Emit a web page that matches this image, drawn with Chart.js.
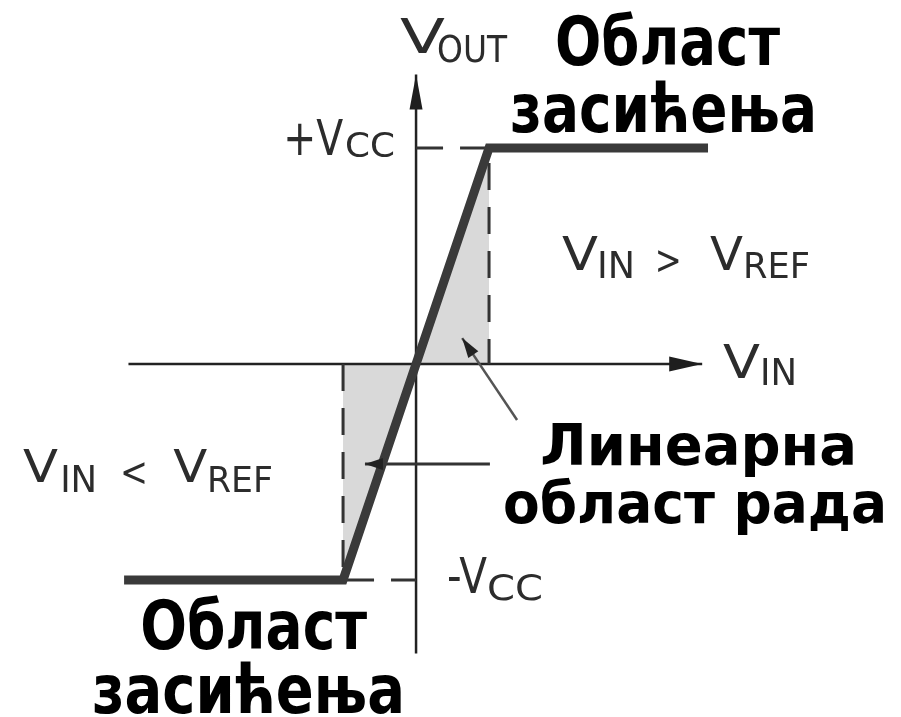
<!DOCTYPE html>
<html>
<head>
<meta charset="utf-8">
<script src="https://cdn.jsdelivr.net/npm/chart.js@4.4.1/dist/chart.umd.min.js"></script>
<style>
  html, body { margin: 0; padding: 0; background: #fff; }
  #wrap { width: 901px; height: 717px; position: relative; }
</style>
</head>
<body>
<div id="wrap"><canvas id="chart"></canvas></div>
<script>
// transfer characteristic of the comparator (Vcc = 1)
const vinCurve = [-1.0, -0.25, 0.25, 1.0];
const voutCurve = [-1, -1, 1, 1];

// linear region (shaded down to the V_IN axis)
const vinLinear = [-0.25, 0, 0.25];
const voutLinear = [-1, 0, 1];

// axes extents
const vinAxis = [-0.985, 0.98];
const voutAxis = [-1.34, 1.34];

// +Vcc / -Vcc guides
const guideTopX = [0, 0.25, 0.25];
const guideTopY = [1, 1, 0];
const guideBotX = [-0.25, -0.25, 0];
const guideBotY = [0, -1, -1];

// pointer arrows (tail -> tip)
const arrowLinX = [0.346, 0.158];
const arrowLinY = [-0.259, 0.12];
const arrowLowX = [0.253, -0.175];
const arrowLowY = [-0.463, -0.463];

const pts = (xs, ys) => xs.map((x, i) => ({ x: x, y: ys[i] }));

// text: [string, x, y (data units, left/baseline), font size, fitted width]
const bigLabels = [
    ['Област', 0.476, 1.384, 68, 225],
    ['засићења', 0.322, 1.074, 68, 307],
    ['Област', -0.945, -1.319, 68, 227],
    ['засићења', -1.110, -1.616, 68, 313],
    ['Линеарна', 0.425, -0.468, 57, 317],
    ['област рада', 0.298, -0.736, 57, 384],
];
const smallLabels = [
    ['V', -0.055, 1.440, 48, 45], ['OUT', 0.072, 1.398, 37, 70],
    ['+V', -0.455, 0.968, 50, 60], ['CC', -0.243, 0.958, 34, 50],
    ['-V', 0.106, -1.060, 50, 40], ['CC', 0.243, -1.093, 36, 56],
    ['V', 1.051, -0.065, 46, 37], ['IN', 1.178, -0.097, 38, 37],
    ['V', 0.500, 0.435, 46, 36], ['IN', 0.620, 0.398, 38, 38],
    ['>', 0.818, 0.417, 40, 27],
    ['V', 1.007, 0.435, 46, 33], ['REF', 1.120, 0.398, 36, 67],
    ['V', -1.346, -0.546, 44, 35], ['IN', -1.219, -0.593, 38, 37],
    ['<', -1.014, -0.565, 40, 28],
    ['V', -0.832, -0.546, 44, 34], ['REF', -0.716, -0.593, 36, 66],
];

function putText(ctx, str, px, py, size, width, weight, color) {
    ctx.font = weight + ' ' + size + 'px "DejaVu Sans"';
    const w = ctx.measureText(str).width;
    ctx.save();
    ctx.fillStyle = color;
    ctx.textBaseline = 'alphabetic';
    ctx.translate(px, py);
    ctx.scale(width / w, 1);
    ctx.fillText(str, 0, 0);
    ctx.restore();
}

function arrowHead(ctx, x0, y0, x1, y1, len, half, color) {
    const a = Math.atan2(y1 - y0, x1 - x0);
    ctx.save();
    ctx.fillStyle = color;
    ctx.translate(x1, y1);
    ctx.rotate(a);
    ctx.beginPath();
    ctx.moveTo(0, 0);
    ctx.lineTo(-len, -half);
    ctx.lineTo(-len, half);
    ctx.closePath();
    ctx.fill();
    ctx.restore();
}

const decor = {
    id: 'decor',
    afterDatasetsDraw(chart) {
        const ctx = chart.ctx;
        const sx = chart.scales.x, sy = chart.scales.y;
        const X = v => sx.getPixelForValue(v), Y = v => sy.getPixelForValue(v);

        // axis arrows
        arrowHead(ctx, X(0), Y(0), X(0), Y(voutAxis[1]), 35, 6.5, '#1e1e1e');
        arrowHead(ctx, X(0), Y(0), X(vinAxis[1]), Y(0), 33, 7.5, '#1e1e1e');
        // pointer arrows
        arrowHead(ctx, X(arrowLinX[0]), Y(arrowLinY[0]), X(arrowLinX[1]), Y(arrowLinY[1]), 20, 6, '#222');
        arrowHead(ctx, X(arrowLowX[0]), Y(arrowLowY[0]), X(arrowLowX[1]), Y(arrowLowY[1]), 18, 6, '#222');

        bigLabels.forEach(l => putText(ctx, l[0], X(l[1]), Y(l[2]), l[3], l[4], 'bold', '#000'));
        smallLabels.forEach(l => putText(ctx, l[0], X(l[1]), Y(l[2]), l[3], l[4], 'normal', '#2c2c2c'));
    }
};

new Chart(document.getElementById('chart'), {
    type: 'line',
    data: {
        datasets: [
            {
                data: pts(vinCurve, voutCurve),
                borderColor: '#3a3a3a', borderWidth: 9,
                borderJoinStyle: 'miter', borderCapStyle: 'butt',
                pointRadius: 0, fill: false, order: 1
            },
            {
                data: pts(arrowLinX, arrowLinY),
                borderColor: '#555', borderWidth: 2.5,
                pointRadius: 0, fill: false, order: 2
            },
            {
                data: pts(arrowLowX, arrowLowY),
                borderColor: '#333', borderWidth: 3,
                pointRadius: 0, fill: false, order: 2
            },
            {
                data: pts(guideTopX, guideTopY),
                borderColor: '#333', borderWidth: 3, borderDash: [27, 17],
                pointRadius: 0, fill: false, order: 3
            },
            {
                data: pts(guideBotX, guideBotY),
                borderColor: '#333', borderWidth: 3, borderDash: [27, 17],
                pointRadius: 0, fill: false, order: 3
            },
            {
                data: pts(vinAxis, [0, 0]),
                borderColor: '#222', borderWidth: 2.5,
                pointRadius: 0, fill: false, order: 4
            },
            {
                data: pts([0, 0], voutAxis),
                borderColor: '#222', borderWidth: 2.5,
                pointRadius: 0, fill: false, order: 4
            },
            {
                data: pts(vinLinear, voutLinear),
                borderWidth: 0, borderColor: 'rgba(0,0,0,0)',
                backgroundColor: '#d9d9d9',
                pointRadius: 0, fill: 'origin', order: 5
            }
        ]
    },
    options: {
        responsive: true,
        maintainAspectRatio: false,
        animation: false,
        layout: { padding: 0 },
        plugins: { legend: { display: false }, tooltip: { enabled: false } },
        elements: { line: { tension: 0 } },
        scales: {
            x: { type: 'linear', min: -1.425, max: 1.661, display: false },
            y: { type: 'linear', min: -1.634, max: 1.685, display: false }
        }
    },
    plugins: [decor]
});
</script>
</body>
</html>
